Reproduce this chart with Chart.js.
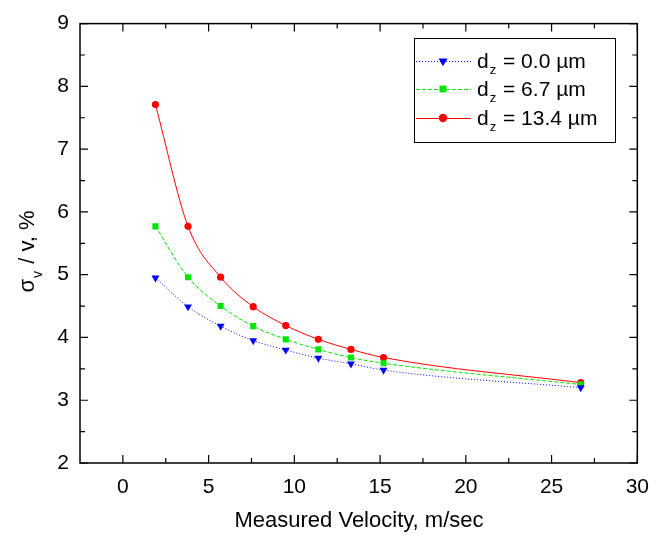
<!DOCTYPE html>
<html>
<head>
<meta charset="utf-8">
<script src="https://cdn.jsdelivr.net/npm/chart.js@4/dist/chart.umd.min.js"></script>
<style>
  html, body { margin: 0; padding: 0; background: #fff; }
</style>
</head>
<body>
<canvas id="velocity-chart" width="661" height="538"></canvas>
<script>
// Données
const velocity = [1.9, 3.8, 5.7, 7.6, 9.5, 11.4, 13.3, 15.2, 26.7];
const sigmaDz00 = [4.95, 4.49, 4.18, 3.95, 3.80, 3.67, 3.58, 3.48, 3.20];
const sigmaDz67 = [5.77, 4.96, 4.50, 4.18, 3.97, 3.81, 3.68, 3.59, 3.25];
const sigmaDz134 = [7.71, 5.77, 4.96, 4.49, 4.19, 3.97, 3.81, 3.68, 3.28];
const seriesLabels = ['0.0', '6.7', '13.4'];
const xTicks = [0, 5, 10, 15, 20, 25, 30];
const yTicks = [2, 3, 4, 5, 6, 7, 8, 9];

const FONT = '"Liberation Sans", Arial, sans-serif';

function toPoints(ys) {
    return velocity.map((x, i) => ({ x: x, y: ys[i] }));
}

const seriesStyles = [
    { color: '#0000FF', dash: [1, 2], pointStyle: 'triangle', rotation: 180, radius: 4.6 },
    { color: '#00E600', dash: [4, 2], pointStyle: 'rect', rotation: 0, radius: 4.3 },
    { color: '#FF0000', dash: [], pointStyle: 'circle', rotation: 0, radius: 3.6 }
];
const seriesData = [sigmaDz00, sigmaDz67, sigmaDz134];

const datasets = seriesData.map((ys, i) => ({
    label: 'dz = ' + seriesLabels[i] + ' µm',
    data: toPoints(ys),
    borderColor: seriesStyles[i].color,
    backgroundColor: seriesStyles[i].color,
    borderWidth: 1,
    borderDash: seriesStyles[i].dash,
    pointStyle: seriesStyles[i].pointStyle,
    pointRotation: seriesStyles[i].rotation,
    pointRadius: seriesStyles[i].radius,
    pointBorderWidth: 0,
    cubicInterpolationMode: 'monotone',
    fill: false
}));

// Texte avec indice
function drawSubText(ctx, x, y, main, sub, rest, size) {
    ctx.font = size + 'px ' + FONT;
    ctx.fillText(main, x, y);
    let w = ctx.measureText(main).width;
    ctx.font = Math.round(size * 0.62) + 'px ' + FONT;
    ctx.fillText(sub, x + w + 1, y + size * 0.38);
    w += ctx.measureText(sub).width + 2;
    ctx.font = size + 'px ' + FONT;
    ctx.fillText(rest, x + w, y);
}
function measureSubText(ctx, main, sub, rest, size) {
    ctx.font = size + 'px ' + FONT;
    let w = ctx.measureText(main).width + ctx.measureText(rest).width;
    ctx.font = Math.round(size * 0.62) + 'px ' + FONT;
    w += ctx.measureText(sub).width + 3;
    return w;
}

const framePlugin = {
    id: 'frame',
    afterDraw(chart) {
        const ctx = chart.ctx;
        const area = chart.chartArea;
        const xs = chart.scales.x;
        const ys = chart.scales.y;
        ctx.save();
        ctx.strokeStyle = '#000';
        ctx.lineWidth = 1.5;
        ctx.strokeRect(area.left, area.top, area.right - area.left, area.bottom - area.top);

        ctx.lineWidth = 1.2;
        ctx.beginPath();
        // graduations X (majeures + mineures)
        for (let i = 0; i < xTicks.length; i++) {
            const px = xs.getPixelForValue(xTicks[i]);
            ctx.moveTo(px, area.bottom); ctx.lineTo(px, area.bottom - 8);
            ctx.moveTo(px, area.top); ctx.lineTo(px, area.top + 8);
            const v = xTicks[i] - 2.5;
            if (v > xs.min) {
                const mx = xs.getPixelForValue(v);
                ctx.moveTo(mx, area.bottom); ctx.lineTo(mx, area.bottom - 5);
                ctx.moveTo(mx, area.top); ctx.lineTo(mx, area.top + 5);
            }
        }
        // graduations Y
        for (let i = 0; i < yTicks.length; i++) {
            const py = ys.getPixelForValue(yTicks[i]);
            ctx.moveTo(area.left, py); ctx.lineTo(area.left + 8, py);
            ctx.moveTo(area.right, py); ctx.lineTo(area.right - 8, py);
            if (i > 0) {
                const my = ys.getPixelForValue(yTicks[i] - 0.5);
                ctx.moveTo(area.left, my); ctx.lineTo(area.left + 5, my);
                ctx.moveTo(area.right, my); ctx.lineTo(area.right - 5, my);
            }
        }
        ctx.stroke();

        // titre de l'axe X
        ctx.fillStyle = '#000';
        ctx.font = '22px ' + FONT;
        ctx.textAlign = 'center';
        ctx.textBaseline = 'alphabetic';
        ctx.fillText('Measured Velocity, m/sec', 359, 527);

        // titre de l'axe Y (rotation)
        ctx.textAlign = 'left';
        ctx.save();
        ctx.translate(34, 251);
        ctx.rotate(-Math.PI / 2);
        const tw = measureSubText(ctx, 'σ', 'v', ' / v, %', 22);
        drawSubText(ctx, -tw / 2, 0, 'σ', 'v', ' / v, %', 22);
        ctx.restore();

        // légende
        const lx = 414, ly = 38, lw = 201, lh = 104;
        ctx.fillStyle = '#fff';
        ctx.fillRect(lx, ly, lw, lh);
        ctx.lineWidth = 1;
        ctx.strokeStyle = '#000';
        ctx.strokeRect(lx + 0.5, ly + 0.5, lw, lh);
        const rows = [61, 89, 118];
        chart.data.datasets.forEach((ds, i) => {
            const st = seriesStyles[i];
            ctx.save();
            ctx.strokeStyle = st.color;
            ctx.lineWidth = 1;
            ctx.setLineDash(st.dash);
            ctx.beginPath();
            ctx.moveTo(lx + 2, rows[i] + 0.5);
            ctx.lineTo(lx + 57, rows[i] + 0.5);
            ctx.stroke();
            ctx.restore();
            ctx.fillStyle = st.color;
            Chart.helpers.drawPoint(ctx, {
                pointStyle: st.pointStyle,
                rotation: st.rotation,
                radius: st.radius + 0.6,
                borderWidth: 0
            }, lx + 29, rows[i]);
            ctx.fillStyle = '#000';
            ctx.textBaseline = 'middle';
            drawSubText(ctx, lx + 63, rows[i] + 1, 'd', 'z', ' = ' + seriesLabels[i] + ' µm', 21);
        });
        ctx.restore();
    }
};

new Chart(document.getElementById('velocity-chart'), {
    type: 'line',
    data: { datasets: datasets },
    options: {
        responsive: false,
        animation: false,
        layout: { padding: { top: 13, right: 23, left: 0, bottom: 0 } },
        plugins: {
            legend: { display: false },
            tooltip: { enabled: false }
        },
        scales: {
            x: {
                type: 'linear',
                min: -2.5,
                max: 30,
                afterBuildTicks: scale => { scale.ticks = xTicks.map(v => ({ value: v })); },
                afterFit: scale => { scale.height = 75; },
                grid: { display: false, drawTicks: false },
                border: { display: false },
                ticks: { color: '#000', font: { family: FONT, size: 21 }, padding: 12, maxRotation: 0 }
            },
            y: {
                type: 'linear',
                min: 2,
                max: 9,
                afterBuildTicks: scale => { scale.ticks = yTicks.map(v => ({ value: v })); },
                afterFit: scale => { scale.width = 80; },
                grid: { display: false, drawTicks: false },
                border: { display: false },
                ticks: { color: '#000', font: { family: FONT, size: 21 }, padding: 11 }
            }
        }
    },
    plugins: [framePlugin]
});
</script>
</body>
</html>
